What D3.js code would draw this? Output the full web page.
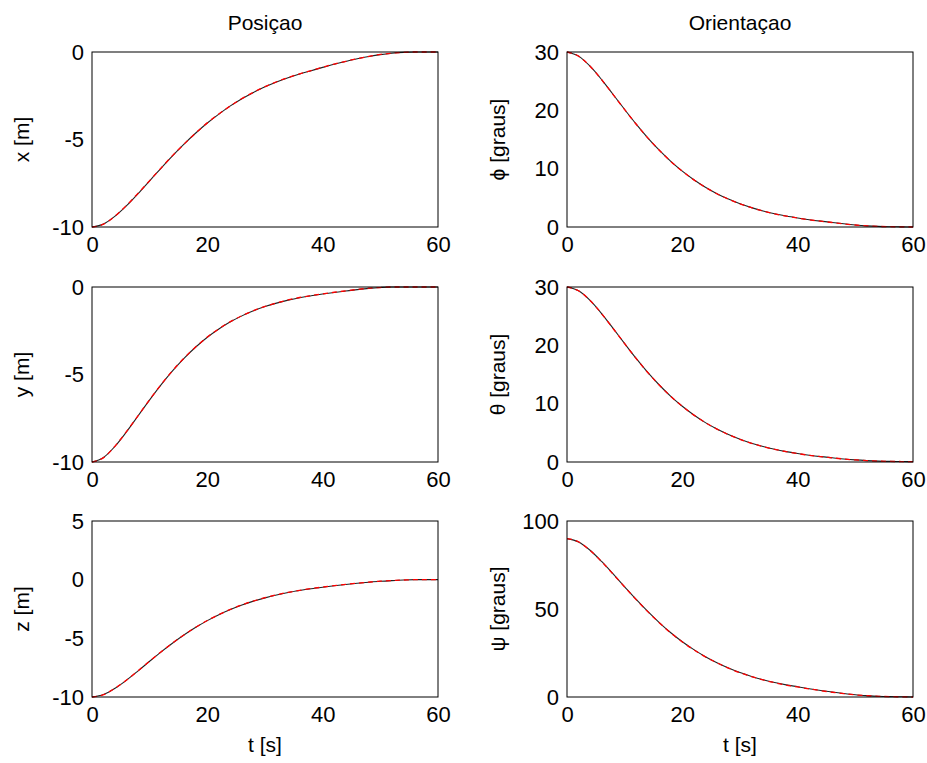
<!DOCTYPE html>
<html>
<head>
<meta charset="utf-8">
<script src="https://cdn.jsdelivr.net/npm/d3@7"></script>
<style>
  html, body { margin: 0; padding: 0; background: #fff; }
  svg { display: block; }
  text { font-family: "Liberation Sans", Arial, Helvetica, sans-serif; fill: #000; }
</style>
</head>
<body>
<svg id="fig" width="927" height="763"></svg>
<script>
// Sample times [s]
const time = [0, 2, 4, 6, 8, 10, 12, 14, 16, 18, 20, 22, 24, 26, 28, 30,
              32, 34, 36, 38, 40, 42, 44, 46, 48, 50, 52, 54, 56, 58, 60];

// Position [m] — simulated (solid black)
const xPos = [-10, -9.83, -9.38, -8.78, -8.09, -7.36, -6.63, -5.92, -5.25, -4.63, -4.06,
              -3.55, -3.08, -2.67, -2.31, -1.99, -1.71, -1.47, -1.26, -1.07, -0.88,
              -0.70, -0.54, -0.39, -0.26, -0.15, -0.07, -0.02, 0, 0, 0];
const yPos = [-10, -9.74, -9.10, -8.27, -7.36, -6.45, -5.58, -4.78, -4.06, -3.43, -2.87,
              -2.40, -1.99, -1.65, -1.36, -1.12, -0.92, -0.75, -0.61, -0.50, -0.40,
              -0.31, -0.23, -0.15, -0.08, -0.03, 0, 0, 0, 0, 0];
const zPos = [-10, -9.79, -9.26, -8.56, -7.77, -6.95, -6.15, -5.40, -4.70, -4.06, -3.49,
              -2.99, -2.55, -2.16, -1.83, -1.55, -1.30, -1.09, -0.92, -0.77, -0.64,
              -0.52, -0.41, -0.31, -0.22, -0.14, -0.08, -0.03, 0, 0, 0];

// Position [m] — reference trajectory (dashed red)
const xRef = [-10, -9.84, -9.37, -8.76, -8.07, -7.35, -6.62, -5.91, -5.25, -4.62, -4.05,
              -3.54, -3.08, -2.66, -2.30, -1.98, -1.70, -1.46, -1.25, -1.06, -0.87,
              -0.69, -0.53, -0.38, -0.25, -0.14, -0.07, -0.02, 0, 0, 0];
const yRef = [-10, -9.75, -9.09, -8.25, -7.35, -6.44, -5.57, -4.77, -4.05, -3.42, -2.86,
              -2.39, -1.98, -1.64, -1.35, -1.11, -0.91, -0.74, -0.60, -0.49, -0.39,
              -0.30, -0.22, -0.14, -0.07, -0.03, 0, 0, 0, 0, 0];
const zRef = [-10, -9.80, -9.25, -8.55, -7.76, -6.94, -6.14, -5.39, -4.69, -4.05, -3.48,
              -2.98, -2.54, -2.15, -1.82, -1.54, -1.29, -1.08, -0.91, -0.76, -0.63,
              -0.51, -0.40, -0.30, -0.21, -0.13, -0.07, -0.03, 0, 0, 0];

// Orientation [graus] — simulated (solid black)
const phiDeg   = [30, 29.29, 27.56, 25.27, 22.72, 20.14, 17.63, 15.29, 13.16, 11.25, 9.57,
                  8.09, 6.81, 5.71, 4.78, 3.98, 3.32, 2.75, 2.27, 1.88, 1.55,
                  1.25, 1.0, 0.78, 0.55, 0.35, 0.2, 0.1, 0.05, 0.02, 0];
const thetaDeg = [30, 29.35, 27.7, 25.45, 22.9, 20.3, 17.75, 15.35, 13.2, 11.25, 9.55,
                  8.05, 6.75, 5.65, 4.7, 3.9, 3.22, 2.66, 2.18, 1.78, 1.45,
                  1.16, 0.92, 0.72, 0.52, 0.36, 0.24, 0.15, 0.1, 0.08, 0.06];
const psiDeg   = [90, 88.1, 83.4, 77.0, 69.9, 62.6, 55.4, 48.6, 42.3, 36.5, 31.4,
                  26.9, 22.9, 19.5, 16.5, 13.9, 11.7, 9.8, 8.2, 6.9, 5.8,
                  4.7, 3.7, 2.8, 2.0, 1.3, 0.8, 0.4, 0.2, 0.1, 0];

// Orientation [graus] — reference trajectory (dashed red)
const phiRef   = [30, 29.3, 27.55, 25.25, 22.7, 20.12, 17.61, 15.28, 13.15, 11.24, 9.56,
                  8.08, 6.80, 5.70, 4.77, 3.97, 3.31, 2.74, 2.26, 1.87, 1.54,
                  1.24, 0.99, 0.77, 0.54, 0.34, 0.2, 0.1, 0.05, 0.02, 0];
const thetaRef = [30, 29.36, 27.69, 25.43, 22.88, 20.28, 17.73, 15.34, 13.19, 11.24, 9.54,
                  8.04, 6.74, 5.64, 4.69, 3.89, 3.21, 2.65, 2.17, 1.77, 1.44,
                  1.15, 0.91, 0.71, 0.51, 0.35, 0.23, 0.14, 0.1, 0.08, 0.06];
const psiRef   = [90, 88.2, 83.3, 76.9, 69.8, 62.5, 55.3, 48.5, 42.2, 36.4, 31.3,
                  26.8, 22.8, 19.4, 16.4, 13.8, 11.6, 9.7, 8.1, 6.8, 5.7,
                  4.6, 3.6, 2.7, 1.9, 1.2, 0.7, 0.4, 0.2, 0.1, 0];

// Tick labels
const tTicks     = [0, 20, 40, 60];
const posTicks   = [-10, -5, 0];
const zTicks     = [-10, -5, 0, 5];
const angTicks   = [0, 10, 20, 30];
const psiTicks   = [0, 50, 100];

const panels = [
  {col: 0, row: 0, sim: xPos,     ref: xRef,     dom: [-10, 0],  ticks: posTicks, label: "x [m]"},
  {col: 0, row: 1, sim: yPos,     ref: yRef,     dom: [-10, 0],  ticks: posTicks, label: "y [m]"},
  {col: 0, row: 2, sim: zPos,     ref: zRef,     dom: [-10, 5],  ticks: zTicks,   label: "z [m]"},
  {col: 1, row: 0, sim: phiDeg,   ref: phiRef,   dom: [0, 30],   ticks: angTicks, label: "\u03D5 [graus]"},
  {col: 1, row: 1, sim: thetaDeg, ref: thetaRef, dom: [0, 30],   ticks: angTicks, label: "\u03B8 [graus]"},
  {col: 1, row: 2, sim: psiDeg,   ref: psiRef,   dom: [0, 100],  ticks: psiTicks, label: "\u03C8 [graus]"}
];

const colX = [[92, 438], [567, 913]];
const rowY = [[52, 227], [287, 462], [521, 697]];
const titles = ["Posi\u00E7ao", "Orienta\u00E7ao"];
const fontSize = 21;
const tickFont = 22;

const svg = d3.select("#fig");

panels.forEach(p => {
  const [x0, x1] = colX[p.col];
  const [y0, y1] = rowY[p.row];
  const xs = d3.scaleLinear().domain([0, 60]).range([x0, x1]);
  const ys = d3.scaleLinear().domain(p.dom).range([y1, y0]);
  const g = svg.append("g");

  // curves: simulated (black, solid) then reference (red, dashed)
  const pts = arr => time.map((t, i) => [t, arr[i]]);
  const line = d3.line().x(d => xs(d[0])).y(d => ys(d[1])).curve(d3.curveMonotoneX);
  g.append("path").attr("d", line(pts(p.sim)))
    .attr("fill", "none").attr("stroke", "#222").attr("stroke-width", 1.1);
  g.append("path").attr("d", line(pts(p.ref)))
    .attr("fill", "none").attr("stroke", "#ff0000").attr("stroke-width", 1.3)
    .attr("stroke-dasharray", "5,4");

  // axes box
  g.append("rect").attr("x", x0).attr("y", y0)
    .attr("width", x1 - x0).attr("height", y1 - y0)
    .attr("fill", "none").attr("stroke", "#000").attr("stroke-width", 1);

  const ax = g.append("g").attr("transform", `translate(0,${y1})`)
    .call(d3.axisBottom(xs).tickValues(tTicks).tickSize(0).tickPadding(9).tickFormat(d3.format("d")));
  const ay = g.append("g").attr("transform", `translate(${x0},0)`)
    .call(d3.axisLeft(ys).tickValues(p.ticks).tickSize(0).tickPadding(8).tickFormat(d3.format("d")));
  [ax, ay].forEach(a => {
    a.select(".domain").remove();
    a.selectAll("text").attr("font-size", tickFont)
      .attr("font-family", "'Liberation Sans', Arial, sans-serif").attr("fill", "#000");
  });
  ay.selectAll("text").text(d => d < 0 ? "-" + Math.abs(d) : d);

  // y label
  const lx = p.col === 0 ? x0 - 63 : x0 - 62;
  svg.append("text")
    .attr("transform", `translate(${lx},${(y0 + y1) / 2}) rotate(-90)`)
    .attr("text-anchor", "middle").attr("font-size", fontSize)
    .text(p.label);

  if (p.row === 0) {
    svg.append("text").attr("x", (x0 + x1) / 2).attr("y", 30)
      .attr("text-anchor", "middle").attr("font-size", fontSize)
      .text(titles[p.col]);
  }
  if (p.row === 2) {
    svg.append("text").attr("x", (x0 + x1) / 2).attr("y", 752)
      .attr("text-anchor", "middle").attr("font-size", fontSize)
      .text("t [s]");
  }
});
</script>
</body>
</html>
